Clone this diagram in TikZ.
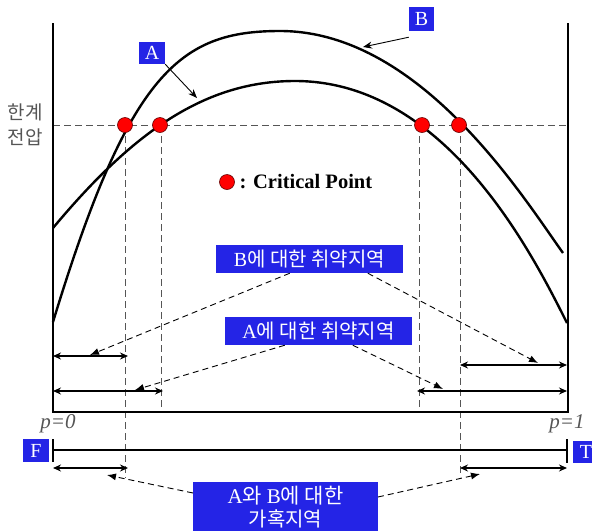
\documentclass[tikz,border=0pt]{standalone}
\usepackage{fontspec}
\setmainfont{Liberation Serif}
\newfontfamily\kr{Noto Sans CJK KR}
\usetikzlibrary{arrows.meta}
\definecolor{boxblue}{RGB}{36,36,230}
\definecolor{dgray}{RGB}{85,85,85}
\begin{document}
\begin{tikzpicture}[x=1pt,y=-1pt,
  curve/.style={line width=2.4pt},
  frame/.style={line width=1.5pt},
  guide/.style={dgray, line width=1pt, dash pattern=on 7pt off 4pt},
  pointer/.style={line width=0.9pt, dash pattern=on 6pt off 4pt, -{Latex[length=9pt,width=7pt]}},
  solidptr/.style={line width=0.9pt, -{Stealth[length=9pt,width=7pt]}},
  span/.style={line width=1.3pt, {Stealth[length=8pt,width=7pt]}-{Stealth[length=8pt,width=7pt]}},
  crit/.style={circle, fill=red, draw=black!60!red, line width=0.6pt, minimum size=15pt, inner sep=0pt},
  tag/.style={fill=boxblue, text=white, inner sep=0pt, font=\fontsize{20}{24}\selectfont},
  ptext/.style={dgray, font=\fontsize{21}{24}\selectfont\itshape},
]
\useasboundingbox (0,0) rectangle (592,531);

% guides
\draw[guide] (53,125) -- (568,125);
\draw[guide] (125,125) -- (125,478);
\draw[guide] (161,125) -- (161,408);
\draw[guide] (419,125) -- (419,408);
\draw[guide] (460,125) -- (460,477);

% frame
\draw[frame] (53,23) -- (53,412) -- (568,412) -- (568,23);

% curves
\draw[curve] (53,322) .. controls (129,72) and (180,31) .. (280,31)
                      .. controls (420,31) and (523,197) .. (563,253);
\draw[curve] (53,228) .. controls (133,132) and (205,81) .. (295,81)
                      .. controls (445,81) and (532,253) .. (567,323);

% critical points
\node[crit] (c1) at (125,125) {};
\node[crit] (c2) at (160,125) {};
\node[crit] (c3) at (422,125) {};
\node[crit] (c4) at (459,125) {};

% curve labels
\node[tag, minimum width=26pt, minimum height=22pt] (Atag) at (152,53) {A};
\node[tag, minimum width=25pt, minimum height=24pt] (Btag) at (421.5,19) {B};
\coordinate (Atip) at (197,98);
\coordinate (Btip) at (363,47);
\draw[solidptr] (Atag.south east) -- (Atip);
\draw[solidptr] ([yshift=-6pt]Btag.south west) -- (Btip);

% y label
\node[dgray, font=\kr\fontsize{19}{25}\selectfont, align=center] (ylab) at (25,125) {한계\\전압};

% legend
\node[crit] (leg) at (227,182) {};
\node[anchor=west, font=\fontsize{20.5}{24}\selectfont\bfseries] (legt) at (236,182) {: Critical Point};

% region tags
\node[tag, minimum width=187pt, minimum height=28pt] (Breg) at (309.5,259) {B{\kr 에 대한 취약지역}};
\node[tag, minimum width=187pt, minimum height=28pt] (Areg) at (318.5,331) {A{\kr 에 대한 취약지역}};

% spans
\coordinate (s1a) at (53,356); \coordinate (s1b) at (128,356);
\coordinate (s2a) at (53,391); \coordinate (s2b) at (163,391);
\coordinate (s3a) at (460,365); \coordinate (s3b) at (567,365);
\coordinate (s4a) at (417,391); \coordinate (s4b) at (567,391);
\draw[span] (s1a) -- (s1b);
\draw[span] (s2a) -- (s2b);
\draw[span] (s3a) -- (s3b);
\draw[span] (s4a) -- (s4b);

% pointers to spans
\coordinate (pB1) at (90,355); \coordinate (pB2) at (538,363);
\coordinate (pA1) at (135,390); \coordinate (pA2) at (443,389);
\draw[pointer] ([xshift=74pt]Breg.south west) -- (pB1);
\draw[pointer] ([xshift=152pt]Breg.south west) -- (pB2);
\draw[pointer] ([xshift=60pt]Areg.south west) -- (pA1);
\draw[pointer] ([xshift=128pt]Areg.south west) -- (pA2);

% p labels
\node[ptext] (p0) at (58,424) {p=0};
\node[ptext] (p1) at (567,424) {p=1};

% F-T axis
\node[tag, minimum width=26pt, minimum height=23pt] (F) at (36,450.5) {F};
\node[tag, minimum width=26pt, minimum height=22pt] (T) at (586,451.5) {T};
\coordinate (ax0) at (53,450); \coordinate (ax1) at (567,450);
\draw[line width=1.4pt] (ax0) -- (ax1);
\draw[line width=1.4pt] (53,439) -- (53,462);
\draw[line width=1.4pt] (567,439) -- (567,463);
\coordinate (s5a) at (53,468); \coordinate (s5b) at (128,468);
\coordinate (s6a) at (460,468); \coordinate (s6b) at (567,468);
\draw[span] (s5a) -- (s5b);
\draw[span] (s6a) -- (s6b);

% harsh region box
\fill[boxblue] (193,482) rectangle (378,531);
\node[text=white, font=\fontsize{21}{24}\selectfont] (H1) at (285.5,496) {A{\kr 와 }B{\kr 에 대한}};
\node[text=white, font=\kr\fontsize{20}{24}\selectfont] (H2) at (285.5,519) {가혹지역};
\coordinate (hL) at (193,493); \coordinate (hR) at (378,497);
\coordinate (pH1) at (107,475); \coordinate (pH2) at (480,474);
\draw[pointer] (hL) -- (pH1);
\draw[pointer] (hR) -- (pH2);
\end{tikzpicture}
\end{document}
